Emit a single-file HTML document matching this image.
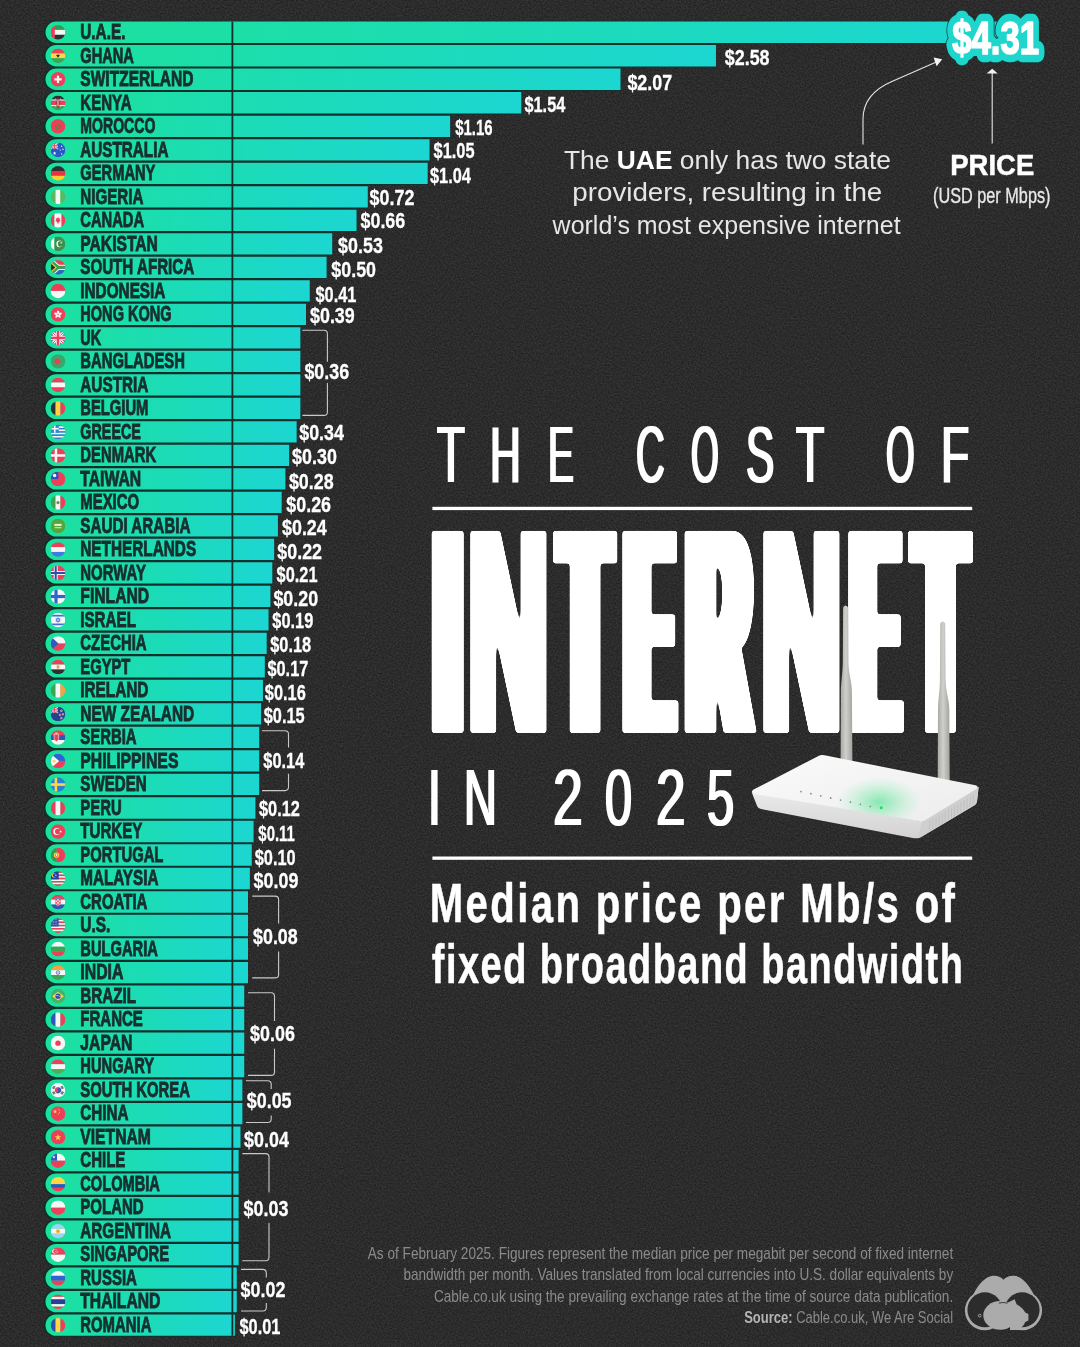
<!DOCTYPE html>
<html lang="en"><head><meta charset="utf-8"><title>The Cost of Internet in 2025</title>
<style>
html,body{margin:0;padding:0;background:#2a2a2a;}
body{width:1080px;height:1347px;overflow:hidden;position:relative;font-family:"Liberation Sans",sans-serif;}
svg{position:absolute;left:0;top:0;display:block;}
text{font-family:"Liberation Sans",sans-serif;}
.nm{font-weight:700;font-size:21.2px;fill:#17302e;stroke:#17302e;stroke-width:.9px;}
.vl{font-weight:700;font-size:21.5px;fill:#fff;stroke:#fff;stroke-width:.3px;}
.br{fill:none;stroke:#c9c9c9;stroke-width:1.1;}
.an{font-size:25.6px;fill:#e6e6e6;}
.pr{font-weight:700;font-size:30.2px;fill:#fff;stroke:#fff;stroke-width:.5px;}
.us{font-size:21.8px;fill:#e8e8e8;stroke:#e8e8e8;stroke-width:.35px;}
.big{font-weight:700;font-size:45.6px;}
.md{font-weight:700;font-size:55px;fill:#fff;stroke:#fff;stroke-width:.5px;}
.ft{font-size:16.1px;fill:#8b8b8b;}
.ttl{position:absolute;left:0;top:0;width:1080px;height:0;color:#fff;white-space:pre;}
.ttl span{position:absolute;display:block;line-height:1;}
.ttl b{display:inline-block;font-weight:inherit;transform-origin:0 0;}
</style></head><body>
<svg width="1080" height="1347" viewBox="0 0 1080 1347">
<defs>
<linearGradient id="g" x1="0" y1="0" x2="1" y2="0"><stop offset="0" stop-color="#1be19c"/><stop offset="1" stop-color="#1cd6d2"/></linearGradient>
<clipPath id="fc"><circle cx="0" cy="0" r="7.3"/></clipPath>
<filter id="grain" x="0" y="0" width="100%" height="100%" color-interpolation-filters="sRGB"><feTurbulence type="fractalNoise" baseFrequency="0.6" numOctaves="3" seed="7" result="n"/><feColorMatrix type="matrix" values="1.6 0 0 0 -0.3  1.6 0 0 0 -0.3  1.6 0 0 0 -0.3  0 0 0 0 1"/></filter>
<filter id="fatx" x="-5%" y="-5%" width="110%" height="110%"><feMorphology operator="dilate" radius="10 0"/><feGaussianBlur stdDeviation="1.8"/><feComponentTransfer><feFuncA type="linear" slope="7" intercept="-3"/></feComponentTransfer></filter>
<filter id="fatn" x="-5%" y="-5%" width="110%" height="110%"><feMorphology operator="dilate" radius="6 0"/><feGaussianBlur stdDeviation="1.8"/><feComponentTransfer><feFuncA type="linear" slope="7" intercept="-3"/></feComponentTransfer></filter>
<filter id="fat1" x="-5%" y="-10%" width="110%" height="120%"><feMorphology operator="dilate" radius="1 0"/></filter>
</defs>
<rect width="1080" height="1347" fill="#242424"/>
<rect width="1080" height="1347" filter="url(#grain)" opacity=".09"/>

<g id="bars">
<path d="M55.15,20.50H1000.00V44.00H55.15A11.75,11.75 0 0 1 55.15,20.50Z" fill="#10302c"/>
<path d="M55.15,44.01H715.98V67.51H55.15A11.75,11.75 0 0 1 55.15,44.01Z" fill="#10302c"/>
<path d="M55.15,67.51H620.50V91.01H55.15A11.75,11.75 0 0 1 55.15,67.51Z" fill="#10302c"/>
<path d="M55.15,91.02H521.29V114.52H55.15A11.75,11.75 0 0 1 55.15,91.02Z" fill="#10302c"/>
<path d="M55.15,114.53H450.15V138.03H55.15A11.75,11.75 0 0 1 55.15,114.53Z" fill="#10302c"/>
<path d="M55.15,138.04H429.56V161.54H55.15A11.75,11.75 0 0 1 55.15,138.04Z" fill="#10302c"/>
<path d="M55.15,161.54H427.69V185.04H55.15A11.75,11.75 0 0 1 55.15,161.54Z" fill="#10302c"/>
<path d="M55.15,185.05H367.78V208.55H55.15A11.75,11.75 0 0 1 55.15,185.05Z" fill="#10302c"/>
<path d="M55.15,208.56H356.55V232.06H55.15A11.75,11.75 0 0 1 55.15,208.56Z" fill="#10302c"/>
<path d="M55.15,232.06H332.22V255.56H55.15A11.75,11.75 0 0 1 55.15,232.06Z" fill="#10302c"/>
<path d="M55.15,255.57H326.60V279.07H55.15A11.75,11.75 0 0 1 55.15,255.57Z" fill="#10302c"/>
<path d="M55.15,279.08H309.75V302.58H55.15A11.75,11.75 0 0 1 55.15,279.08Z" fill="#10302c"/>
<path d="M55.15,302.58H306.01V326.08H55.15A11.75,11.75 0 0 1 55.15,302.58Z" fill="#10302c"/>
<path d="M55.15,326.09H300.39V349.59H55.15A11.75,11.75 0 0 1 55.15,326.09Z" fill="#10302c"/>
<path d="M55.15,349.60H300.39V373.10H55.15A11.75,11.75 0 0 1 55.15,349.60Z" fill="#10302c"/>
<path d="M55.15,373.11H300.39V396.61H55.15A11.75,11.75 0 0 1 55.15,373.11Z" fill="#10302c"/>
<path d="M55.15,396.61H300.39V420.11H55.15A11.75,11.75 0 0 1 55.15,396.61Z" fill="#10302c"/>
<path d="M55.15,420.12H296.65V443.62H55.15A11.75,11.75 0 0 1 55.15,420.12Z" fill="#10302c"/>
<path d="M55.15,443.63H289.16V467.13H55.15A11.75,11.75 0 0 1 55.15,443.63Z" fill="#10302c"/>
<path d="M55.15,467.13H285.42V490.63H55.15A11.75,11.75 0 0 1 55.15,467.13Z" fill="#10302c"/>
<path d="M55.15,490.64H281.67V514.14H55.15A11.75,11.75 0 0 1 55.15,490.64Z" fill="#10302c"/>
<path d="M55.15,514.15H277.93V537.65H55.15A11.75,11.75 0 0 1 55.15,514.15Z" fill="#10302c"/>
<path d="M55.15,537.65H274.18V561.15H55.15A11.75,11.75 0 0 1 55.15,537.65Z" fill="#10302c"/>
<path d="M55.15,561.16H272.31V584.66H55.15A11.75,11.75 0 0 1 55.15,561.16Z" fill="#10302c"/>
<path d="M55.15,584.67H270.44V608.17H55.15A11.75,11.75 0 0 1 55.15,584.67Z" fill="#10302c"/>
<path d="M55.15,608.18H268.57V631.68H55.15A11.75,11.75 0 0 1 55.15,608.18Z" fill="#10302c"/>
<path d="M55.15,631.68H266.70V655.18H55.15A11.75,11.75 0 0 1 55.15,631.68Z" fill="#10302c"/>
<path d="M55.15,655.19H264.82V678.69H55.15A11.75,11.75 0 0 1 55.15,655.19Z" fill="#10302c"/>
<path d="M55.15,678.70H262.95V702.20H55.15A11.75,11.75 0 0 1 55.15,678.70Z" fill="#10302c"/>
<path d="M55.15,702.20H261.08V725.70H55.15A11.75,11.75 0 0 1 55.15,702.20Z" fill="#10302c"/>
<path d="M55.15,725.71H259.21V749.21H55.15A11.75,11.75 0 0 1 55.15,725.71Z" fill="#10302c"/>
<path d="M55.15,749.22H259.21V772.72H55.15A11.75,11.75 0 0 1 55.15,749.22Z" fill="#10302c"/>
<path d="M55.15,772.72H259.21V796.22H55.15A11.75,11.75 0 0 1 55.15,772.72Z" fill="#10302c"/>
<path d="M55.15,796.23H255.46V819.73H55.15A11.75,11.75 0 0 1 55.15,796.23Z" fill="#10302c"/>
<path d="M55.15,819.74H253.59V843.24H55.15A11.75,11.75 0 0 1 55.15,819.74Z" fill="#10302c"/>
<path d="M55.15,843.25H251.72V866.75H55.15A11.75,11.75 0 0 1 55.15,843.25Z" fill="#10302c"/>
<path d="M55.15,866.75H249.85V890.25H55.15A11.75,11.75 0 0 1 55.15,866.75Z" fill="#10302c"/>
<path d="M55.15,890.26H247.98V913.76H55.15A11.75,11.75 0 0 1 55.15,890.26Z" fill="#10302c"/>
<path d="M55.15,913.77H247.98V937.27H55.15A11.75,11.75 0 0 1 55.15,913.77Z" fill="#10302c"/>
<path d="M55.15,937.27H247.98V960.77H55.15A11.75,11.75 0 0 1 55.15,937.27Z" fill="#10302c"/>
<path d="M55.15,960.78H247.98V984.28H55.15A11.75,11.75 0 0 1 55.15,960.78Z" fill="#10302c"/>
<path d="M55.15,984.29H244.23V1007.79H55.15A11.75,11.75 0 0 1 55.15,984.29Z" fill="#10302c"/>
<path d="M55.15,1007.79H244.23V1031.29H55.15A11.75,11.75 0 0 1 55.15,1007.79Z" fill="#10302c"/>
<path d="M55.15,1031.30H244.23V1054.80H55.15A11.75,11.75 0 0 1 55.15,1031.30Z" fill="#10302c"/>
<path d="M55.15,1054.81H244.23V1078.31H55.15A11.75,11.75 0 0 1 55.15,1054.81Z" fill="#10302c"/>
<path d="M55.15,1078.32H242.36V1101.81H55.15A11.75,11.75 0 0 1 55.15,1078.32Z" fill="#10302c"/>
<path d="M55.15,1101.82H242.36V1125.32H55.15A11.75,11.75 0 0 1 55.15,1101.82Z" fill="#10302c"/>
<path d="M55.15,1125.33H240.49V1148.83H55.15A11.75,11.75 0 0 1 55.15,1125.33Z" fill="#10302c"/>
<path d="M55.15,1148.84H238.62V1172.34H55.15A11.75,11.75 0 0 1 55.15,1148.84Z" fill="#10302c"/>
<path d="M55.15,1172.34H238.62V1195.84H55.15A11.75,11.75 0 0 1 55.15,1172.34Z" fill="#10302c"/>
<path d="M55.15,1195.85H238.62V1219.35H55.15A11.75,11.75 0 0 1 55.15,1195.85Z" fill="#10302c"/>
<path d="M55.15,1219.36H238.62V1242.86H55.15A11.75,11.75 0 0 1 55.15,1219.36Z" fill="#10302c"/>
<path d="M55.15,1242.86H238.62V1266.36H55.15A11.75,11.75 0 0 1 55.15,1242.86Z" fill="#10302c"/>
<path d="M55.15,1266.37H236.74V1289.87H55.15A11.75,11.75 0 0 1 55.15,1266.37Z" fill="#10302c"/>
<path d="M55.15,1289.88H236.74V1313.38H55.15A11.75,11.75 0 0 1 55.15,1289.88Z" fill="#10302c"/>
<path d="M55.15,1313.38H234.87V1336.88H55.15A11.75,11.75 0 0 1 55.15,1313.38Z" fill="#10302c"/>
<path d="M56.15,21.60H1000.00V42.90H56.15A10.65,10.65 0 0 1 56.15,21.60Z" fill="url(#g)"/>
<path d="M56.15,45.11H715.98V66.41H56.15A10.65,10.65 0 0 1 56.15,45.11Z" fill="url(#g)"/>
<path d="M56.15,68.61H620.50V89.91H56.15A10.65,10.65 0 0 1 56.15,68.61Z" fill="url(#g)"/>
<path d="M56.15,92.12H521.29V113.42H56.15A10.65,10.65 0 0 1 56.15,92.12Z" fill="url(#g)"/>
<path d="M56.15,115.63H450.15V136.93H56.15A10.65,10.65 0 0 1 56.15,115.63Z" fill="url(#g)"/>
<path d="M56.15,139.14H429.56V160.44H56.15A10.65,10.65 0 0 1 56.15,139.14Z" fill="url(#g)"/>
<path d="M56.15,162.64H427.69V183.94H56.15A10.65,10.65 0 0 1 56.15,162.64Z" fill="url(#g)"/>
<path d="M56.15,186.15H367.78V207.45H56.15A10.65,10.65 0 0 1 56.15,186.15Z" fill="url(#g)"/>
<path d="M56.15,209.66H356.55V230.96H56.15A10.65,10.65 0 0 1 56.15,209.66Z" fill="url(#g)"/>
<path d="M56.15,233.16H332.22V254.46H56.15A10.65,10.65 0 0 1 56.15,233.16Z" fill="url(#g)"/>
<path d="M56.15,256.67H326.60V277.97H56.15A10.65,10.65 0 0 1 56.15,256.67Z" fill="url(#g)"/>
<path d="M56.15,280.18H309.75V301.48H56.15A10.65,10.65 0 0 1 56.15,280.18Z" fill="url(#g)"/>
<path d="M56.15,303.68H306.01V324.98H56.15A10.65,10.65 0 0 1 56.15,303.68Z" fill="url(#g)"/>
<path d="M56.15,327.19H300.39V348.49H56.15A10.65,10.65 0 0 1 56.15,327.19Z" fill="url(#g)"/>
<path d="M56.15,350.70H300.39V372.00H56.15A10.65,10.65 0 0 1 56.15,350.70Z" fill="url(#g)"/>
<path d="M56.15,374.21H300.39V395.51H56.15A10.65,10.65 0 0 1 56.15,374.21Z" fill="url(#g)"/>
<path d="M56.15,397.71H300.39V419.01H56.15A10.65,10.65 0 0 1 56.15,397.71Z" fill="url(#g)"/>
<path d="M56.15,421.22H296.65V442.52H56.15A10.65,10.65 0 0 1 56.15,421.22Z" fill="url(#g)"/>
<path d="M56.15,444.73H289.16V466.03H56.15A10.65,10.65 0 0 1 56.15,444.73Z" fill="url(#g)"/>
<path d="M56.15,468.23H285.42V489.53H56.15A10.65,10.65 0 0 1 56.15,468.23Z" fill="url(#g)"/>
<path d="M56.15,491.74H281.67V513.04H56.15A10.65,10.65 0 0 1 56.15,491.74Z" fill="url(#g)"/>
<path d="M56.15,515.25H277.93V536.55H56.15A10.65,10.65 0 0 1 56.15,515.25Z" fill="url(#g)"/>
<path d="M56.15,538.75H274.18V560.05H56.15A10.65,10.65 0 0 1 56.15,538.75Z" fill="url(#g)"/>
<path d="M56.15,562.26H272.31V583.56H56.15A10.65,10.65 0 0 1 56.15,562.26Z" fill="url(#g)"/>
<path d="M56.15,585.77H270.44V607.07H56.15A10.65,10.65 0 0 1 56.15,585.77Z" fill="url(#g)"/>
<path d="M56.15,609.28H268.57V630.58H56.15A10.65,10.65 0 0 1 56.15,609.28Z" fill="url(#g)"/>
<path d="M56.15,632.78H266.70V654.08H56.15A10.65,10.65 0 0 1 56.15,632.78Z" fill="url(#g)"/>
<path d="M56.15,656.29H264.82V677.59H56.15A10.65,10.65 0 0 1 56.15,656.29Z" fill="url(#g)"/>
<path d="M56.15,679.80H262.95V701.10H56.15A10.65,10.65 0 0 1 56.15,679.80Z" fill="url(#g)"/>
<path d="M56.15,703.30H261.08V724.60H56.15A10.65,10.65 0 0 1 56.15,703.30Z" fill="url(#g)"/>
<path d="M56.15,726.81H259.21V748.11H56.15A10.65,10.65 0 0 1 56.15,726.81Z" fill="url(#g)"/>
<path d="M56.15,750.32H259.21V771.62H56.15A10.65,10.65 0 0 1 56.15,750.32Z" fill="url(#g)"/>
<path d="M56.15,773.82H259.21V795.12H56.15A10.65,10.65 0 0 1 56.15,773.82Z" fill="url(#g)"/>
<path d="M56.15,797.33H255.46V818.63H56.15A10.65,10.65 0 0 1 56.15,797.33Z" fill="url(#g)"/>
<path d="M56.15,820.84H253.59V842.14H56.15A10.65,10.65 0 0 1 56.15,820.84Z" fill="url(#g)"/>
<path d="M56.15,844.35H251.72V865.64H56.15A10.65,10.65 0 0 1 56.15,844.35Z" fill="url(#g)"/>
<path d="M56.15,867.85H249.85V889.15H56.15A10.65,10.65 0 0 1 56.15,867.85Z" fill="url(#g)"/>
<path d="M56.15,891.36H247.98V912.66H56.15A10.65,10.65 0 0 1 56.15,891.36Z" fill="url(#g)"/>
<path d="M56.15,914.87H247.98V936.17H56.15A10.65,10.65 0 0 1 56.15,914.87Z" fill="url(#g)"/>
<path d="M56.15,938.37H247.98V959.67H56.15A10.65,10.65 0 0 1 56.15,938.37Z" fill="url(#g)"/>
<path d="M56.15,961.88H247.98V983.18H56.15A10.65,10.65 0 0 1 56.15,961.88Z" fill="url(#g)"/>
<path d="M56.15,985.39H244.23V1006.69H56.15A10.65,10.65 0 0 1 56.15,985.39Z" fill="url(#g)"/>
<path d="M56.15,1008.89H244.23V1030.19H56.15A10.65,10.65 0 0 1 56.15,1008.89Z" fill="url(#g)"/>
<path d="M56.15,1032.40H244.23V1053.70H56.15A10.65,10.65 0 0 1 56.15,1032.40Z" fill="url(#g)"/>
<path d="M56.15,1055.91H244.23V1077.21H56.15A10.65,10.65 0 0 1 56.15,1055.91Z" fill="url(#g)"/>
<path d="M56.15,1079.41H242.36V1100.71H56.15A10.65,10.65 0 0 1 56.15,1079.41Z" fill="url(#g)"/>
<path d="M56.15,1102.92H242.36V1124.22H56.15A10.65,10.65 0 0 1 56.15,1102.92Z" fill="url(#g)"/>
<path d="M56.15,1126.43H240.49V1147.73H56.15A10.65,10.65 0 0 1 56.15,1126.43Z" fill="url(#g)"/>
<path d="M56.15,1149.94H238.62V1171.24H56.15A10.65,10.65 0 0 1 56.15,1149.94Z" fill="url(#g)"/>
<path d="M56.15,1173.44H238.62V1194.74H56.15A10.65,10.65 0 0 1 56.15,1173.44Z" fill="url(#g)"/>
<path d="M56.15,1196.95H238.62V1218.25H56.15A10.65,10.65 0 0 1 56.15,1196.95Z" fill="url(#g)"/>
<path d="M56.15,1220.46H238.62V1241.76H56.15A10.65,10.65 0 0 1 56.15,1220.46Z" fill="url(#g)"/>
<path d="M56.15,1243.96H238.62V1265.26H56.15A10.65,10.65 0 0 1 56.15,1243.96Z" fill="url(#g)"/>
<path d="M56.15,1267.47H236.74V1288.77H56.15A10.65,10.65 0 0 1 56.15,1267.47Z" fill="url(#g)"/>
<path d="M56.15,1290.98H236.74V1312.28H56.15A10.65,10.65 0 0 1 56.15,1290.98Z" fill="url(#g)"/>
<path d="M56.15,1314.48H234.87V1335.78H56.15A10.65,10.65 0 0 1 56.15,1314.48Z" fill="url(#g)"/>
<rect x="231.50" y="21.60" width="1.8" height="1314.18" fill="#10302c"/>
</g>
<g id="flags">
<g transform="translate(58.00,32.35)"><g clip-path="url(#fc)"><rect x="-7.3" y="-7.30" width="14.6" height="4.92" fill="#2e9e57"/><rect x="-7.3" y="-2.43" width="14.6" height="4.92" fill="#f6f6f6"/><rect x="-7.3" y="2.43" width="14.6" height="4.92" fill="#2c3036"/><rect x="-7.3" y="-7.3" width="4.1" height="14.6" fill="#ee3f59"/></g></g>
<g transform="translate(58.00,55.86)"><g clip-path="url(#fc)"><rect x="-7.3" y="-7.30" width="14.6" height="4.92" fill="#ee3f59"/><rect x="-7.3" y="-2.43" width="14.6" height="4.92" fill="#ffd447"/><rect x="-7.3" y="2.43" width="14.6" height="4.92" fill="#3aa655"/><polygon points="0.00,-2.30 0.54,-0.74 2.19,-0.71 0.87,0.28 1.35,1.86 0.00,0.92 -1.35,1.86 -0.87,0.28 -2.19,-0.71 -0.54,-0.74" fill="#2c3036" /></g></g>
<g transform="translate(58.00,79.36)"><g clip-path="url(#fc)"><rect x="-7.3" y="-7.3" width="14.6" height="14.6" fill="#ee3f59"/><rect x="-1.1" y="-3.7" width="2.2" height="7.4" fill="#f6f6f6"/><rect x="-3.7" y="-1.1" width="7.4" height="2.2" fill="#f6f6f6"/></g></g>
<g transform="translate(58.00,102.87)"><g clip-path="url(#fc)"><rect x="-7.3" y="-7.30" width="14.6" height="4.03" fill="#2c3036"/><rect x="-7.3" y="-3.32" width="14.6" height="1.11" fill="#f6f6f6"/><rect x="-7.3" y="-2.26" width="14.6" height="4.56" fill="#ee3f59"/><rect x="-7.3" y="2.26" width="14.6" height="1.11" fill="#f6f6f6"/><rect x="-7.3" y="3.32" width="14.6" height="4.03" fill="#3c9e50"/><ellipse cx="0" cy="0" rx="1.7" ry="4.6" fill="#ee3f59" stroke="#2c3036" stroke-width=".7"/><line x1="-2.6" y1="-4.5" x2="2.6" y2="4.5" stroke="#f6f6f6" stroke-width="0.5"/><line x1="2.6" y1="-4.5" x2="-2.6" y2="4.5" stroke="#f6f6f6" stroke-width="0.5"/><ellipse cx="0" cy="0" rx="1.3" ry="3.9" fill="#ee3f59"/><rect x="-0.3" y="-3" width="0.6" height="6" fill="#f6f6f6"/></g></g>
<g transform="translate(58.00,126.38)"><g clip-path="url(#fc)"><rect x="-7.3" y="-7.3" width="14.6" height="14.6" fill="#ee3f59"/><polygon points="0.00,-2.90 0.69,-0.75 2.95,-0.76 1.12,0.56 1.82,2.71 0.00,1.38 -1.82,2.71 -1.12,0.56 -2.95,-0.76 -0.69,-0.75" fill="none" stroke="#4a8f3c" stroke-width=".9"/></g></g>
<g transform="translate(58.00,149.89)"><g clip-path="url(#fc)"><rect x="-7.3" y="-7.3" width="14.6" height="14.6" fill="#2b57c9"/><rect x="-7.3" y="-7.3" width="7.3" height="6.3" fill="#233f9c"/><line x1="-7.3" y1="-7.3" x2="0.0" y2="-1.0" stroke="#f6f6f6" stroke-width="1.3"/><line x1="0.0" y1="-7.3" x2="-7.3" y2="-1.0" stroke="#f6f6f6" stroke-width="1.3"/><line x1="-7.3" y1="-7.3" x2="0.0" y2="-1.0" stroke="#ee3f59" stroke-width="0.5"/><line x1="0.0" y1="-7.3" x2="-7.3" y2="-1.0" stroke="#ee3f59" stroke-width="0.5"/><rect x="-4.65" y="-7.3" width="2" height="6.3" fill="#f6f6f6"/><rect x="-7.3" y="-5.15" width="7.3" height="2" fill="#f6f6f6"/><rect x="-4.2" y="-7.3" width="1.1" height="6.3" fill="#ee3f59"/><rect x="-7.3" y="-4.7" width="7.3" height="1.1" fill="#ee3f59"/><polygon points="-3.40,1.70 -2.90,2.71 -1.78,2.87 -2.59,3.66 -2.40,4.78 -3.40,4.25 -4.40,4.78 -4.21,3.66 -5.02,2.87 -3.90,2.71" fill="#f6f6f6" /><circle cx="3.6" cy="-3.6" r="0.7" fill="#f6f6f6" /><circle cx="5" cy="-0.6" r="0.7" fill="#f6f6f6" /><circle cx="2.2" cy="0.2" r="0.6" fill="#f6f6f6" /><circle cx="3.6" cy="4" r="0.7" fill="#f6f6f6" /></g></g>
<g transform="translate(58.00,173.39)"><g clip-path="url(#fc)"><rect x="-7.3" y="-7.30" width="14.6" height="4.92" fill="#2c3036"/><rect x="-7.3" y="-2.43" width="14.6" height="4.92" fill="#e8343f"/><rect x="-7.3" y="2.43" width="14.6" height="4.92" fill="#ffce31"/></g></g>
<g transform="translate(58.00,196.90)"><g clip-path="url(#fc)"><rect x="-7.30" y="-7.3" width="4.92" height="14.6" fill="#5cb85c"/><rect x="-2.43" y="-7.3" width="4.92" height="14.6" fill="#f6f6f6"/><rect x="2.43" y="-7.3" width="4.92" height="14.6" fill="#5cb85c"/></g></g>
<g transform="translate(58.00,220.41)"><g clip-path="url(#fc)"><rect x="-7.30" y="-7.3" width="3.79" height="14.6" fill="#ee3f59"/><rect x="-3.56" y="-7.3" width="7.16" height="14.6" fill="#f6f6f6"/><rect x="3.56" y="-7.3" width="3.79" height="14.6" fill="#ee3f59"/><polygon points="0.00,-3.40 0.90,-1.80 2.30,-2.10 1.70,-0.30 2.80,0.50 1.00,1.30 1.20,2.30 0.30,2.10 0.30,3.60 -0.30,3.60 -0.30,2.10 -1.20,2.30 -1.00,1.30 -2.80,0.50 -1.70,-0.30 -2.30,-2.10 -0.90,-1.80" fill="#ee3f59" /></g></g>
<g transform="translate(58.00,243.91)"><g clip-path="url(#fc)"><rect x="-7.30" y="-7.3" width="3.79" height="14.6" fill="#f6f6f6"/><rect x="-3.56" y="-7.3" width="10.91" height="14.6" fill="#3f8f4a"/><circle cx="1.7" cy="0" r="3.3" fill="#f6f6f6" /><circle cx="2.7" cy="0" r="2.8" fill="#3f8f4a" /><polygon points="3.20,-2.40 3.48,-1.59 4.34,-1.57 3.66,-1.05 3.91,-0.23 3.20,-0.72 2.49,-0.23 2.74,-1.05 2.06,-1.57 2.92,-1.59" fill="#f6f6f6" /></g></g>
<g transform="translate(58.00,267.42)"><g clip-path="url(#fc)"><rect x="-7.3" y="-7.30" width="14.6" height="7.35" fill="#ee3f59"/><rect x="-7.3" y="0.00" width="14.6" height="7.35" fill="#2f62d3"/><polygon points="-7.30,-7.30 -4.30,-7.30 1.00,-2.60 7.30,-2.60 7.30,2.60 1.00,2.60 -4.30,7.30 -7.30,7.30" fill="#f6f6f6" /><polygon points="-7.30,-7.30 -5.70,-7.30 0.60,-1.60 7.30,-1.60 7.30,1.60 0.60,1.60 -5.70,7.30 -7.30,7.30" fill="#3aa24f" /><polygon points="-7.30,-5.60 -1.20,0.00 -7.30,5.60" fill="#ffd447" /><polygon points="-7.30,-4.20 -2.60,0.00 -7.30,4.20" fill="#2c3036" /></g></g>
<g transform="translate(58.00,290.93)"><g clip-path="url(#fc)"><rect x="-7.3" y="-7.30" width="14.6" height="7.35" fill="#ee3f59"/><rect x="-7.3" y="0.00" width="14.6" height="7.35" fill="#f6f6f6"/></g></g>
<g transform="translate(58.00,314.43)"><g clip-path="url(#fc)"><rect x="-7.3" y="-7.3" width="14.6" height="14.6" fill="#ee3f59"/><ellipse cx="0" cy="-2" rx="1.15" ry="2" fill="#f6f6f6" transform="rotate(0)"/><ellipse cx="0" cy="-2" rx="1.15" ry="2" fill="#f6f6f6" transform="rotate(72)"/><ellipse cx="0" cy="-2" rx="1.15" ry="2" fill="#f6f6f6" transform="rotate(144)"/><ellipse cx="0" cy="-2" rx="1.15" ry="2" fill="#f6f6f6" transform="rotate(216)"/><ellipse cx="0" cy="-2" rx="1.15" ry="2" fill="#f6f6f6" transform="rotate(288)"/><circle cx="0" cy="0" r="0.7" fill="#ee3f59" /></g></g>
<g transform="translate(58.00,337.94)"><g clip-path="url(#fc)"><rect x="-7.3" y="-7.3" width="14.6" height="14.6" fill="#2f55c0"/><line x1="-7.3" y1="-7.3" x2="7.3" y2="7.3" stroke="#f6f6f6" stroke-width="3.0"/><line x1="7.3" y1="-7.3" x2="-7.3" y2="7.3" stroke="#f6f6f6" stroke-width="3.0"/><line x1="-7.3" y1="-7.3" x2="7.3" y2="7.3" stroke="#ee3f59" stroke-width="1.0"/><line x1="7.3" y1="-7.3" x2="-7.3" y2="7.3" stroke="#ee3f59" stroke-width="1.0"/><rect x="-2.3" y="-7.3" width="4.6" height="14.6" fill="#f6f6f6"/><rect x="-7.3" y="-2.3" width="14.6" height="4.6" fill="#f6f6f6"/><rect x="-1.25" y="-7.3" width="2.5" height="14.6" fill="#ee3f59"/><rect x="-7.3" y="-1.25" width="14.6" height="2.5" fill="#ee3f59"/></g></g>
<g transform="translate(58.00,361.45)"><g clip-path="url(#fc)"><rect x="-7.3" y="-7.3" width="14.6" height="14.6" fill="#37a869"/><circle cx="-0.6" cy="0" r="3.0" fill="#ee3f59" /></g></g>
<g transform="translate(58.00,384.96)"><g clip-path="url(#fc)"><rect x="-7.3" y="-7.30" width="14.6" height="4.92" fill="#ee3f59"/><rect x="-7.3" y="-2.43" width="14.6" height="4.92" fill="#f6f6f6"/><rect x="-7.3" y="2.43" width="14.6" height="4.92" fill="#ee3f59"/></g></g>
<g transform="translate(58.00,408.46)"><g clip-path="url(#fc)"><rect x="-7.30" y="-7.3" width="4.92" height="14.6" fill="#2c3036"/><rect x="-2.43" y="-7.3" width="4.92" height="14.6" fill="#ffd23f"/><rect x="2.43" y="-7.3" width="4.92" height="14.6" fill="#ee3f59"/></g></g>
<g transform="translate(58.00,431.97)"><g clip-path="url(#fc)"><rect x="-7.3" y="-7.30" width="14.6" height="1.67" fill="#3b7fd9"/><rect x="-7.3" y="-5.68" width="14.6" height="1.67" fill="#f6f6f6"/><rect x="-7.3" y="-4.06" width="14.6" height="1.67" fill="#3b7fd9"/><rect x="-7.3" y="-2.43" width="14.6" height="1.67" fill="#f6f6f6"/><rect x="-7.3" y="-0.81" width="14.6" height="1.67" fill="#3b7fd9"/><rect x="-7.3" y="0.81" width="14.6" height="1.67" fill="#f6f6f6"/><rect x="-7.3" y="2.43" width="14.6" height="1.67" fill="#3b7fd9"/><rect x="-7.3" y="4.06" width="14.6" height="1.67" fill="#f6f6f6"/><rect x="-7.3" y="5.68" width="14.6" height="1.67" fill="#3b7fd9"/><rect x="-7.3" y="-7.3" width="8.1" height="8.1" fill="#3b7fd9"/><rect x="-4.05" y="-7.3" width="1.6" height="8.1" fill="#f6f6f6"/><rect x="-7.3" y="-4.05" width="8.1" height="1.6" fill="#f6f6f6"/></g></g>
<g transform="translate(58.00,455.48)"><g clip-path="url(#fc)"><rect x="-7.3" y="-7.3" width="14.6" height="14.6" fill="#ee3f59"/><rect x="-3.3" y="-7.3" width="2.5" height="14.6" fill="#f6f6f6"/><rect x="-7.3" y="-1.25" width="14.6" height="2.5" fill="#f6f6f6"/></g></g>
<g transform="translate(58.00,478.98)"><g clip-path="url(#fc)"><rect x="-7.3" y="-7.3" width="14.6" height="14.6" fill="#ee3f59"/><rect x="-7.3" y="-7.3" width="7.6" height="7.3" fill="#2b4fc4"/><circle cx="-3.4" cy="-3.5" r="1.7" fill="#f6f6f6" /></g></g>
<g transform="translate(58.00,502.49)"><g clip-path="url(#fc)"><rect x="-7.30" y="-7.3" width="4.92" height="14.6" fill="#3aa655"/><rect x="-2.43" y="-7.3" width="4.92" height="14.6" fill="#f6f6f6"/><rect x="2.43" y="-7.3" width="4.92" height="14.6" fill="#ee3f59"/><circle cx="0" cy="0" r="1.6" fill="#a0713c" /><circle cx="0" cy="0.7" r="1.1" fill="#5a9a4a" /></g></g>
<g transform="translate(58.00,526.00)"><g clip-path="url(#fc)"><rect x="-7.3" y="-7.3" width="14.6" height="14.6" fill="#55a63a"/><rect x="-3.6" y="-2.1" width="7.2" height="2.0" fill="#e9f2d6"/><rect x="-3.3" y="1.3" width="6.6" height="0.9" fill="#e9f2d6"/></g></g>
<g transform="translate(58.00,549.50)"><g clip-path="url(#fc)"><rect x="-7.3" y="-7.30" width="14.6" height="4.92" fill="#ee3f59"/><rect x="-7.3" y="-2.43" width="14.6" height="4.92" fill="#f6f6f6"/><rect x="-7.3" y="2.43" width="14.6" height="4.92" fill="#3f7be0"/></g></g>
<g transform="translate(58.00,573.01)"><g clip-path="url(#fc)"><rect x="-7.3" y="-7.3" width="14.6" height="14.6" fill="#ee3f59"/><rect x="-4.3" y="-7.3" width="4" height="14.6" fill="#f6f6f6"/><rect x="-7.3" y="-2" width="14.6" height="4" fill="#f6f6f6"/><rect x="-3.3" y="-7.3" width="2" height="14.6" fill="#2a4fa8"/><rect x="-7.3" y="-1" width="14.6" height="2" fill="#2a4fa8"/></g></g>
<g transform="translate(58.00,596.52)"><g clip-path="url(#fc)"><rect x="-7.3" y="-7.3" width="14.6" height="14.6" fill="#f6f6f6"/><rect x="-3.6" y="-7.3" width="3.2" height="14.6" fill="#2f67cf"/><rect x="-7.3" y="-1.6" width="14.6" height="3.2" fill="#2f67cf"/></g></g>
<g transform="translate(58.00,620.03)"><g clip-path="url(#fc)"><rect x="-7.3" y="-7.3" width="14.6" height="14.6" fill="#f6f6f6"/><rect x="-7.3" y="-5.2" width="14.6" height="1.7" fill="#3a6fe0"/><rect x="-7.3" y="3.5" width="14.6" height="1.7" fill="#3a6fe0"/><polygon points="0.00,-2.40 2.10,1.20 -2.10,1.20" fill="none" stroke="#3a6fe0" stroke-width=".7"/><polygon points="0.00,2.40 2.10,-1.20 -2.10,-1.20" fill="none" stroke="#3a6fe0" stroke-width=".7"/></g></g>
<g transform="translate(58.00,643.53)"><g clip-path="url(#fc)"><rect x="-7.3" y="-7.30" width="14.6" height="7.35" fill="#f6f6f6"/><rect x="-7.3" y="0.00" width="14.6" height="7.35" fill="#ee3f59"/><polygon points="-7.30,-7.30 0.40,0.00 -7.30,7.30" fill="#2f5bbf" /></g></g>
<g transform="translate(58.00,667.04)"><g clip-path="url(#fc)"><rect x="-7.3" y="-7.30" width="14.6" height="4.92" fill="#ee3f59"/><rect x="-7.3" y="-2.43" width="14.6" height="4.92" fill="#f6f6f6"/><rect x="-7.3" y="2.43" width="14.6" height="4.92" fill="#2c3036"/><rect x="-1.3" y="-1.7" width="2.6" height="3.2" fill="#d9a441"/></g></g>
<g transform="translate(58.00,690.55)"><g clip-path="url(#fc)"><rect x="-7.30" y="-7.3" width="4.92" height="14.6" fill="#3aa655"/><rect x="-2.43" y="-7.3" width="4.92" height="14.6" fill="#f6f6f6"/><rect x="2.43" y="-7.3" width="4.92" height="14.6" fill="#ff9d42"/></g></g>
<g transform="translate(58.00,714.05)"><g clip-path="url(#fc)"><rect x="-7.3" y="-7.3" width="14.6" height="14.6" fill="#27408f"/><rect x="-7.3" y="-7.3" width="7.3" height="6.3" fill="#233f9c"/><line x1="-7.3" y1="-7.3" x2="0.0" y2="-1.0" stroke="#f6f6f6" stroke-width="1.3"/><line x1="0.0" y1="-7.3" x2="-7.3" y2="-1.0" stroke="#f6f6f6" stroke-width="1.3"/><line x1="-7.3" y1="-7.3" x2="0.0" y2="-1.0" stroke="#ee3f59" stroke-width="0.5"/><line x1="0.0" y1="-7.3" x2="-7.3" y2="-1.0" stroke="#ee3f59" stroke-width="0.5"/><rect x="-4.65" y="-7.3" width="2" height="6.3" fill="#f6f6f6"/><rect x="-7.3" y="-5.15" width="7.3" height="2" fill="#f6f6f6"/><rect x="-4.2" y="-7.3" width="1.1" height="6.3" fill="#ee3f59"/><rect x="-7.3" y="-4.7" width="7.3" height="1.1" fill="#ee3f59"/><polygon points="3.40,-4.50 3.71,-3.62 4.64,-3.60 3.89,-3.04 4.16,-2.15 3.40,-2.68 2.64,-2.15 2.91,-3.04 2.16,-3.60 3.09,-3.62" fill="#ee3f59" stroke="#f6f6f6" stroke-width=".35"/><polygon points="5.00,-1.00 5.28,-0.19 6.14,-0.17 5.46,0.35 5.71,1.17 5.00,0.68 4.29,1.17 4.54,0.35 3.86,-0.17 4.72,-0.19" fill="#ee3f59" stroke="#f6f6f6" stroke-width=".35"/><polygon points="2.00,-0.40 2.28,0.41 3.14,0.43 2.46,0.95 2.71,1.77 2.00,1.28 1.29,1.77 1.54,0.95 0.86,0.43 1.72,0.41" fill="#ee3f59" stroke="#f6f6f6" stroke-width=".35"/><polygon points="3.40,2.90 3.71,3.78 4.64,3.80 3.89,4.36 4.16,5.25 3.40,4.72 2.64,5.25 2.91,4.36 2.16,3.80 3.09,3.78" fill="#ee3f59" stroke="#f6f6f6" stroke-width=".35"/></g></g>
<g transform="translate(58.00,737.56)"><g clip-path="url(#fc)"><rect x="-7.3" y="-7.30" width="14.6" height="4.92" fill="#ee3f59"/><rect x="-7.3" y="-2.43" width="14.6" height="4.92" fill="#2f55b5"/><rect x="-7.3" y="2.43" width="14.6" height="4.92" fill="#f6f6f6"/><path d="M-3.9,-3.4h4.6v4.4c0,2 -2.3,3 -2.3,3s-2.3,-1 -2.3,-3z" fill="#ee3f59" stroke="#f6f6f6" stroke-width=".6"/><rect x="-2.7" y="-5.1" width="2.2" height="1.6" fill="#ffd447"/></g></g>
<g transform="translate(58.00,761.07)"><g clip-path="url(#fc)"><rect x="-7.3" y="-7.30" width="14.6" height="7.35" fill="#2f62d3"/><rect x="-7.3" y="0.00" width="14.6" height="7.35" fill="#ee3f59"/><polygon points="-7.30,-7.30 1.20,0.00 -7.30,7.30" fill="#f6f6f6" /><circle cx="-3.9" cy="0" r="1.5" fill="#ffd447" /></g></g>
<g transform="translate(58.00,784.57)"><g clip-path="url(#fc)"><rect x="-7.3" y="-7.3" width="14.6" height="14.6" fill="#2c7fd8"/><rect x="-3.4" y="-7.3" width="2.6" height="14.6" fill="#ffd447"/><rect x="-7.3" y="-1.3" width="14.6" height="2.6" fill="#ffd447"/></g></g>
<g transform="translate(58.00,808.08)"><g clip-path="url(#fc)"><rect x="-7.30" y="-7.3" width="4.92" height="14.6" fill="#ee3f59"/><rect x="-2.43" y="-7.3" width="4.92" height="14.6" fill="#f6f6f6"/><rect x="2.43" y="-7.3" width="4.92" height="14.6" fill="#ee3f59"/></g></g>
<g transform="translate(58.00,831.59)"><g clip-path="url(#fc)"><rect x="-7.3" y="-7.3" width="14.6" height="14.6" fill="#ee3f59"/><circle cx="-1.2" cy="0" r="3.5" fill="#f6f6f6" /><circle cx="-0.19999999999999996" cy="0" r="2.8" fill="#ee3f59" /><polygon points="4.03,-0.46 3.17,0.19 3.48,1.21 2.60,0.60 1.72,1.21 2.03,0.19 1.17,-0.46 2.25,-0.49 2.60,-1.50 2.95,-0.49" fill="#f6f6f6" /></g></g>
<g transform="translate(58.00,855.10)"><g clip-path="url(#fc)"><rect x="-7.30" y="-7.3" width="5.89" height="14.6" fill="#3a9a4a"/><rect x="-1.46" y="-7.3" width="8.81" height="14.6" fill="#ee3f59"/><circle cx="-1.5" cy="0" r="2.7" fill="#ffd447" /><circle cx="-1.5" cy="0" r="1.6" fill="#ee3f59" /><circle cx="-1.5" cy="0" r="1.0" fill="#f6f6f6" /></g></g>
<g transform="translate(58.00,878.60)"><g clip-path="url(#fc)"><rect x="-7.3" y="-7.30" width="14.6" height="1.67" fill="#ee3f59"/><rect x="-7.3" y="-5.68" width="14.6" height="1.67" fill="#f6f6f6"/><rect x="-7.3" y="-4.06" width="14.6" height="1.67" fill="#ee3f59"/><rect x="-7.3" y="-2.43" width="14.6" height="1.67" fill="#f6f6f6"/><rect x="-7.3" y="-0.81" width="14.6" height="1.67" fill="#ee3f59"/><rect x="-7.3" y="0.81" width="14.6" height="1.67" fill="#f6f6f6"/><rect x="-7.3" y="2.43" width="14.6" height="1.67" fill="#ee3f59"/><rect x="-7.3" y="4.06" width="14.6" height="1.67" fill="#f6f6f6"/><rect x="-7.3" y="5.68" width="14.6" height="1.67" fill="#ee3f59"/><rect x="-7.3" y="-7.3" width="8" height="8.1" fill="#273f9f"/><circle cx="-3.9" cy="-3.3" r="2.4" fill="#ffd447" /><circle cx="-3.0" cy="-3.3" r="2.0" fill="#273f9f" /><polygon points="-2.20,-4.50 -1.92,-3.69 -1.06,-3.67 -1.74,-3.15 -1.49,-2.33 -2.20,-2.82 -2.91,-2.33 -2.66,-3.15 -3.34,-3.67 -2.48,-3.69" fill="#ffd447" /></g></g>
<g transform="translate(58.00,902.11)"><g clip-path="url(#fc)"><rect x="-7.3" y="-7.30" width="14.6" height="4.92" fill="#ee3f59"/><rect x="-7.3" y="-2.43" width="14.6" height="4.92" fill="#f6f6f6"/><rect x="-7.3" y="2.43" width="14.6" height="4.92" fill="#2f55b5"/><path d="M-2.4,-3.2h4.8v4.2c0,2 -2.4,3 -2.4,3s-2.4,-1 -2.4,-3z" fill="#f6f6f6" stroke="#ee3f59" stroke-width=".5"/><rect x="-2.4" y="-3.2" width="1.6" height="1.6" fill="#ee3f59"/><rect x="0.8" y="-3.2" width="1.6" height="1.6" fill="#ee3f59"/><rect x="-0.8" y="-1.6" width="1.6" height="1.6" fill="#ee3f59"/><rect x="-2.4" y="0" width="1.6" height="1.6" fill="#ee3f59"/><rect x="0.8" y="0" width="1.6" height="1.6" fill="#ee3f59"/><rect x="-0.8" y="1.6" width="1.6" height="1.6" fill="#ee3f59"/><rect x="-2.6" y="-4.6" width="5.2" height="1.3" fill="#5b8fe0"/></g></g>
<g transform="translate(58.00,925.62)"><g clip-path="url(#fc)"><rect x="-7.3" y="-7.30" width="14.6" height="1.67" fill="#ee3f59"/><rect x="-7.3" y="-5.68" width="14.6" height="1.67" fill="#f6f6f6"/><rect x="-7.3" y="-4.06" width="14.6" height="1.67" fill="#ee3f59"/><rect x="-7.3" y="-2.43" width="14.6" height="1.67" fill="#f6f6f6"/><rect x="-7.3" y="-0.81" width="14.6" height="1.67" fill="#ee3f59"/><rect x="-7.3" y="0.81" width="14.6" height="1.67" fill="#f6f6f6"/><rect x="-7.3" y="2.43" width="14.6" height="1.67" fill="#ee3f59"/><rect x="-7.3" y="4.06" width="14.6" height="1.67" fill="#f6f6f6"/><rect x="-7.3" y="5.68" width="14.6" height="1.67" fill="#ee3f59"/><rect x="-7.3" y="-7.3" width="7.9" height="8.1" fill="#2f4fae"/><circle cx="-6.0" cy="-6.0" r="0.35" fill="#f6f6f6" /><circle cx="-6.0" cy="-4.4" r="0.35" fill="#f6f6f6" /><circle cx="-6.0" cy="-2.8" r="0.35" fill="#f6f6f6" /><circle cx="-6.0" cy="-1.1999999999999993" r="0.35" fill="#f6f6f6" /><circle cx="-4.4" cy="-6.0" r="0.35" fill="#f6f6f6" /><circle cx="-4.4" cy="-4.4" r="0.35" fill="#f6f6f6" /><circle cx="-4.4" cy="-2.8" r="0.35" fill="#f6f6f6" /><circle cx="-4.4" cy="-1.1999999999999993" r="0.35" fill="#f6f6f6" /><circle cx="-2.8" cy="-6.0" r="0.35" fill="#f6f6f6" /><circle cx="-2.8" cy="-4.4" r="0.35" fill="#f6f6f6" /><circle cx="-2.8" cy="-2.8" r="0.35" fill="#f6f6f6" /><circle cx="-2.8" cy="-1.1999999999999993" r="0.35" fill="#f6f6f6" /><circle cx="-1.1999999999999993" cy="-6.0" r="0.35" fill="#f6f6f6" /><circle cx="-1.1999999999999993" cy="-4.4" r="0.35" fill="#f6f6f6" /><circle cx="-1.1999999999999993" cy="-2.8" r="0.35" fill="#f6f6f6" /><circle cx="-1.1999999999999993" cy="-1.1999999999999993" r="0.35" fill="#f6f6f6" /></g></g>
<g transform="translate(58.00,949.12)"><g clip-path="url(#fc)"><rect x="-7.3" y="-7.30" width="14.6" height="4.92" fill="#f6f6f6"/><rect x="-7.3" y="-2.43" width="14.6" height="4.92" fill="#3aa655"/><rect x="-7.3" y="2.43" width="14.6" height="4.92" fill="#ee3f59"/></g></g>
<g transform="translate(58.00,972.63)"><g clip-path="url(#fc)"><rect x="-7.3" y="-7.30" width="14.6" height="4.92" fill="#ff9d42"/><rect x="-7.3" y="-2.43" width="14.6" height="4.92" fill="#f6f6f6"/><rect x="-7.3" y="2.43" width="14.6" height="4.92" fill="#3aa655"/><circle cx="0" cy="0" r="1.8" fill="none" stroke="#2b3f9a" stroke-width=".6"/><circle cx="0" cy="0" r="0.5" fill="#2b3f9a" /></g></g>
<g transform="translate(58.00,996.14)"><g clip-path="url(#fc)"><rect x="-7.3" y="-7.3" width="14.6" height="14.6" fill="#41b36a"/><polygon points="-5.90,0.00 0.00,-4.30 5.90,0.00 0.00,4.30" fill="#ffd447" /><circle cx="0" cy="0" r="2.6" fill="#2a4bb0" /><path d="M-2.5,-.5Q0,-1.3 2.5,.7" stroke="#f6f6f6" stroke-width=".55" fill="none"/></g></g>
<g transform="translate(58.00,1019.64)"><g clip-path="url(#fc)"><rect x="-7.30" y="-7.3" width="4.92" height="14.6" fill="#2f55c0"/><rect x="-2.43" y="-7.3" width="4.92" height="14.6" fill="#f6f6f6"/><rect x="2.43" y="-7.3" width="4.92" height="14.6" fill="#ee3f59"/></g></g>
<g transform="translate(58.00,1043.15)"><g clip-path="url(#fc)"><rect x="-7.3" y="-7.3" width="14.6" height="14.6" fill="#f6f6f6"/><circle cx="0" cy="0" r="2.7" fill="#ee3f59" /></g></g>
<g transform="translate(58.00,1066.66)"><g clip-path="url(#fc)"><rect x="-7.3" y="-7.30" width="14.6" height="4.92" fill="#ee3f59"/><rect x="-7.3" y="-2.43" width="14.6" height="4.92" fill="#f6f6f6"/><rect x="-7.3" y="2.43" width="14.6" height="4.92" fill="#4caf50"/></g></g>
<g transform="translate(58.00,1090.16)"><g clip-path="url(#fc)"><rect x="-7.3" y="-7.3" width="14.6" height="14.6" fill="#f6f6f6"/><g transform="rotate(-33)"><path d="M-3.1,0A3.1,3.1 0 0 1 3.1,0Z" fill="#ee3f59"/><path d="M-3.1,0A3.1,3.1 0 0 0 3.1,0Z" fill="#2f55c0"/><circle cx="-1.55" cy="0" r="1.55" fill="#ee3f59"/><circle cx="1.55" cy="0" r="1.55" fill="#2f55c0"/></g><g transform="rotate(-57)"><rect x="-1.5" y="-6" width="3" height=".55" fill="#2c3036"/><rect x="-1.5" y="-5.2" width="3" height=".55" fill="#2c3036"/><rect x="-1.5" y="-4.4" width="3" height=".55" fill="#2c3036"/></g><g transform="rotate(57)"><rect x="-1.5" y="-6" width="3" height=".55" fill="#2c3036"/><rect x="-1.5" y="-5.2" width="3" height=".55" fill="#2c3036"/><rect x="-1.5" y="-4.4" width="3" height=".55" fill="#2c3036"/></g><g transform="rotate(123)"><rect x="-1.5" y="-6" width="3" height=".55" fill="#2c3036"/><rect x="-1.5" y="-5.2" width="3" height=".55" fill="#2c3036"/><rect x="-1.5" y="-4.4" width="3" height=".55" fill="#2c3036"/></g><g transform="rotate(-123)"><rect x="-1.5" y="-6" width="3" height=".55" fill="#2c3036"/><rect x="-1.5" y="-5.2" width="3" height=".55" fill="#2c3036"/><rect x="-1.5" y="-4.4" width="3" height=".55" fill="#2c3036"/></g></g></g>
<g transform="translate(58.00,1113.67)"><g clip-path="url(#fc)"><rect x="-7.3" y="-7.3" width="14.6" height="14.6" fill="#ee3f59"/><polygon points="-2.90,-4.50 -2.36,-2.94 -0.71,-2.91 -2.03,-1.92 -1.55,-0.34 -2.90,-1.28 -4.25,-0.34 -3.77,-1.92 -5.09,-2.91 -3.44,-2.94" fill="#ffd447" /><circle cx="0.3" cy="-4.6" r="0.55" fill="#ffd447" /><circle cx="1.6" cy="-3.1" r="0.55" fill="#ffd447" /><circle cx="1.6" cy="-1.2" r="0.55" fill="#ffd447" /><circle cx="0.3" cy="0.3" r="0.55" fill="#ffd447" /></g></g>
<g transform="translate(58.00,1137.18)"><g clip-path="url(#fc)"><rect x="-7.3" y="-7.3" width="14.6" height="14.6" fill="#ee3f59"/><polygon points="0.00,-3.20 0.80,-0.90 3.23,-0.85 1.29,0.62 2.00,2.95 0.00,1.56 -2.00,2.95 -1.29,0.62 -3.23,-0.85 -0.80,-0.90" fill="#ffd447" /></g></g>
<g transform="translate(58.00,1160.69)"><g clip-path="url(#fc)"><rect x="-7.3" y="-7.30" width="14.6" height="7.35" fill="#f6f6f6"/><rect x="-7.3" y="0.00" width="14.6" height="7.35" fill="#ee3f59"/><rect x="-7.3" y="-7.3" width="6.3" height="7.3" fill="#2f55c0"/><polygon points="-4.10,-5.40 -3.68,-4.18 -2.39,-4.16 -3.42,-3.38 -3.04,-2.14 -4.10,-2.88 -5.16,-2.14 -4.78,-3.38 -5.81,-4.16 -4.52,-4.18" fill="#f6f6f6" /></g></g>
<g transform="translate(58.00,1184.19)"><g clip-path="url(#fc)"><rect x="-7.3" y="-7.30" width="14.6" height="7.35" fill="#ffd447"/><rect x="-7.3" y="0.00" width="14.6" height="3.70" fill="#2f55c0"/><rect x="-7.3" y="3.65" width="14.6" height="3.70" fill="#ee3f59"/></g></g>
<g transform="translate(58.00,1207.70)"><g clip-path="url(#fc)"><rect x="-7.3" y="-7.30" width="14.6" height="7.35" fill="#f6f6f6"/><rect x="-7.3" y="0.00" width="14.6" height="7.35" fill="#ee3f59"/></g></g>
<g transform="translate(58.00,1231.21)"><g clip-path="url(#fc)"><rect x="-7.3" y="-7.30" width="14.6" height="4.92" fill="#9fd3f2"/><rect x="-7.3" y="-2.43" width="14.6" height="4.92" fill="#f6f6f6"/><rect x="-7.3" y="2.43" width="14.6" height="4.92" fill="#9fd3f2"/><circle cx="0" cy="0" r="2.2" fill="#f7c948" /><circle cx="0" cy="0" r="1.0" fill="#d9962b" /></g></g>
<g transform="translate(58.00,1254.71)"><g clip-path="url(#fc)"><rect x="-7.3" y="-7.30" width="14.6" height="7.35" fill="#ee3f59"/><rect x="-7.3" y="0.00" width="14.6" height="7.35" fill="#f6f6f6"/><circle cx="-3.7" cy="-3.5" r="2.3" fill="#f6f6f6" /><circle cx="-2.8000000000000003" cy="-3.5" r="1.9" fill="#ee3f59" /><circle cx="-1.3" cy="-4.7" r="0.45" fill="#f6f6f6" /><circle cx="-0.2" cy="-3.4" r="0.45" fill="#f6f6f6" /><circle cx="-2.2" cy="-3.2" r="0.45" fill="#f6f6f6" /><circle cx="-0.7" cy="-2.1" r="0.45" fill="#f6f6f6" /><circle cx="-1.8" cy="-2.1" r="0.45" fill="#f6f6f6" /></g></g>
<g transform="translate(58.00,1278.22)"><g clip-path="url(#fc)"><rect x="-7.3" y="-7.30" width="14.6" height="4.92" fill="#f6f6f6"/><rect x="-7.3" y="-2.43" width="14.6" height="4.92" fill="#2f62d3"/><rect x="-7.3" y="2.43" width="14.6" height="4.92" fill="#ee3f59"/></g></g>
<g transform="translate(58.00,1301.73)"><g clip-path="url(#fc)"><rect x="-7.3" y="-7.30" width="14.6" height="2.48" fill="#ee3f59"/><rect x="-7.3" y="-4.87" width="14.6" height="2.48" fill="#f6f6f6"/><rect x="-7.3" y="-2.43" width="14.6" height="4.92" fill="#2b3f9a"/><rect x="-7.3" y="2.43" width="14.6" height="2.48" fill="#f6f6f6"/><rect x="-7.3" y="4.87" width="14.6" height="2.48" fill="#ee3f59"/></g></g>
<g transform="translate(58.00,1325.23)"><g clip-path="url(#fc)"><rect x="-7.30" y="-7.3" width="4.92" height="14.6" fill="#2b4fb0"/><rect x="-2.43" y="-7.3" width="4.92" height="14.6" fill="#ffd447"/><rect x="2.43" y="-7.3" width="4.92" height="14.6" fill="#ee3f59"/></g></g>
</g>
<g id="names">
<text class="nm" x="80.3" y="39.10" textLength="45.10" lengthAdjust="spacingAndGlyphs">U.A.E.</text>
<text class="nm" x="80.3" y="62.61" textLength="53.60" lengthAdjust="spacingAndGlyphs">GHANA</text>
<text class="nm" x="80.3" y="86.11" textLength="113.10" lengthAdjust="spacingAndGlyphs">SWITZERLAND</text>
<text class="nm" x="80.3" y="109.62" textLength="51.30" lengthAdjust="spacingAndGlyphs">KENYA</text>
<text class="nm" x="80.3" y="133.13" textLength="75.10" lengthAdjust="spacingAndGlyphs">MOROCCO</text>
<text class="nm" x="80.3" y="156.64" textLength="88.10" lengthAdjust="spacingAndGlyphs">AUSTRALIA</text>
<text class="nm" x="80.3" y="180.14" textLength="75.10" lengthAdjust="spacingAndGlyphs">GERMANY</text>
<text class="nm" x="80.3" y="203.65" textLength="63.10" lengthAdjust="spacingAndGlyphs">NIGERIA</text>
<text class="nm" x="80.3" y="227.16" textLength="63.85" lengthAdjust="spacingAndGlyphs">CANADA</text>
<text class="nm" x="80.3" y="250.66" textLength="77.60" lengthAdjust="spacingAndGlyphs">PAKISTAN</text>
<text class="nm" x="80.3" y="274.17" textLength="113.85" lengthAdjust="spacingAndGlyphs">SOUTH AFRICA</text>
<text class="nm" x="80.3" y="297.68" textLength="85.10" lengthAdjust="spacingAndGlyphs">INDONESIA</text>
<text class="nm" x="80.3" y="321.18" textLength="91.35" lengthAdjust="spacingAndGlyphs">HONG KONG</text>
<text class="nm" x="80.3" y="344.69" textLength="20.85" lengthAdjust="spacingAndGlyphs">UK</text>
<text class="nm" x="80.3" y="368.20" textLength="104.60" lengthAdjust="spacingAndGlyphs">BANGLADESH</text>
<text class="nm" x="80.3" y="391.71" textLength="68.10" lengthAdjust="spacingAndGlyphs">AUSTRIA</text>
<text class="nm" x="80.3" y="415.21" textLength="68.10" lengthAdjust="spacingAndGlyphs">BELGIUM</text>
<text class="nm" x="80.3" y="438.72" textLength="60.60" lengthAdjust="spacingAndGlyphs">GREECE</text>
<text class="nm" x="80.3" y="462.23" textLength="75.85" lengthAdjust="spacingAndGlyphs">DENMARK</text>
<text class="nm" x="80.3" y="485.73" textLength="60.85" lengthAdjust="spacingAndGlyphs">TAIWAN</text>
<text class="nm" x="80.3" y="509.24" textLength="58.85" lengthAdjust="spacingAndGlyphs">MEXICO</text>
<text class="nm" x="80.3" y="532.75" textLength="110.10" lengthAdjust="spacingAndGlyphs">SAUDI ARABIA</text>
<text class="nm" x="80.3" y="556.25" textLength="115.85" lengthAdjust="spacingAndGlyphs">NETHERLANDS</text>
<text class="nm" x="80.3" y="579.76" textLength="65.60" lengthAdjust="spacingAndGlyphs">NORWAY</text>
<text class="nm" x="80.3" y="603.27" textLength="68.85" lengthAdjust="spacingAndGlyphs">FINLAND</text>
<text class="nm" x="80.3" y="626.78" textLength="55.60" lengthAdjust="spacingAndGlyphs">ISRAEL</text>
<text class="nm" x="80.3" y="650.28" textLength="66.35" lengthAdjust="spacingAndGlyphs">CZECHIA</text>
<text class="nm" x="80.3" y="673.79" textLength="50.10" lengthAdjust="spacingAndGlyphs">EGYPT</text>
<text class="nm" x="80.3" y="697.30" textLength="68.10" lengthAdjust="spacingAndGlyphs">IRELAND</text>
<text class="nm" x="80.3" y="720.80" textLength="113.85" lengthAdjust="spacingAndGlyphs">NEW ZEALAND</text>
<text class="nm" x="80.3" y="744.31" textLength="56.35" lengthAdjust="spacingAndGlyphs">SERBIA</text>
<text class="nm" x="80.3" y="767.82" textLength="98.10" lengthAdjust="spacingAndGlyphs">PHILIPPINES</text>
<text class="nm" x="80.3" y="791.32" textLength="66.35" lengthAdjust="spacingAndGlyphs">SWEDEN</text>
<text class="nm" x="80.3" y="814.83" textLength="41.35" lengthAdjust="spacingAndGlyphs">PERU</text>
<text class="nm" x="80.3" y="838.34" textLength="62.10" lengthAdjust="spacingAndGlyphs">TURKEY</text>
<text class="nm" x="80.3" y="861.85" textLength="83.10" lengthAdjust="spacingAndGlyphs">PORTUGAL</text>
<text class="nm" x="80.3" y="885.35" textLength="78.10" lengthAdjust="spacingAndGlyphs">MALAYSIA</text>
<text class="nm" x="80.3" y="908.86" textLength="67.10" lengthAdjust="spacingAndGlyphs">CROATIA</text>
<text class="nm" x="80.3" y="932.37" textLength="30.10" lengthAdjust="spacingAndGlyphs">U.S.</text>
<text class="nm" x="80.3" y="955.87" textLength="77.60" lengthAdjust="spacingAndGlyphs">BULGARIA</text>
<text class="nm" x="80.3" y="979.38" textLength="43.10" lengthAdjust="spacingAndGlyphs">INDIA</text>
<text class="nm" x="80.3" y="1002.89" textLength="55.85" lengthAdjust="spacingAndGlyphs">BRAZIL</text>
<text class="nm" x="80.3" y="1026.39" textLength="62.60" lengthAdjust="spacingAndGlyphs">FRANCE</text>
<text class="nm" x="80.3" y="1049.90" textLength="52.10" lengthAdjust="spacingAndGlyphs">JAPAN</text>
<text class="nm" x="80.3" y="1073.41" textLength="73.85" lengthAdjust="spacingAndGlyphs">HUNGARY</text>
<text class="nm" x="80.3" y="1096.91" textLength="109.60" lengthAdjust="spacingAndGlyphs">SOUTH KOREA</text>
<text class="nm" x="80.3" y="1120.42" textLength="48.10" lengthAdjust="spacingAndGlyphs">CHINA</text>
<text class="nm" x="80.3" y="1143.93" textLength="70.60" lengthAdjust="spacingAndGlyphs">VIETNAM</text>
<text class="nm" x="80.3" y="1167.44" textLength="45.10" lengthAdjust="spacingAndGlyphs">CHILE</text>
<text class="nm" x="80.3" y="1190.94" textLength="79.60" lengthAdjust="spacingAndGlyphs">COLOMBIA</text>
<text class="nm" x="80.3" y="1214.45" textLength="63.35" lengthAdjust="spacingAndGlyphs">POLAND</text>
<text class="nm" x="80.3" y="1237.96" textLength="90.60" lengthAdjust="spacingAndGlyphs">ARGENTINA</text>
<text class="nm" x="80.3" y="1261.46" textLength="88.85" lengthAdjust="spacingAndGlyphs">SINGAPORE</text>
<text class="nm" x="80.3" y="1284.97" textLength="56.60" lengthAdjust="spacingAndGlyphs">RUSSIA</text>
<text class="nm" x="80.3" y="1308.48" textLength="80.10" lengthAdjust="spacingAndGlyphs">THAILAND</text>
<text class="nm" x="80.3" y="1331.98" textLength="71.10" lengthAdjust="spacingAndGlyphs">ROMANIA</text>
</g>
<g id="values">
<text class="vl" transform="translate(724.80,65.20) scale(0.8320,1)">$2.58</text>
<text class="vl" transform="translate(627.40,89.60) scale(0.8320,1)">$2.07</text>
<text class="vl" transform="translate(524.40,111.90) scale(0.7613,1)">$1.54</text>
<text class="vl" transform="translate(455.20,135.20) scale(0.6947,1)">$1.16</text>
<text class="vl" transform="translate(433.60,158.30) scale(0.7613,1)">$1.05</text>
<text class="vl" transform="translate(430.00,183.30) scale(0.7613,1)">$1.04</text>
<text class="vl" transform="translate(369.60,205.40) scale(0.8320,1)">$0.72</text>
<text class="vl" transform="translate(360.50,227.60) scale(0.8320,1)">$0.66</text>
<text class="vl" transform="translate(338.10,253.10) scale(0.8320,1)">$0.53</text>
<text class="vl" transform="translate(331.30,277.10) scale(0.8320,1)">$0.50</text>
<text class="vl" transform="translate(315.50,302.10) scale(0.7613,1)">$0.41</text>
<text class="vl" transform="translate(310.00,323.40) scale(0.8320,1)">$0.39</text>
<text class="vl" transform="translate(304.40,379.00) scale(0.8320,1)">$0.36</text>
<text class="vl" transform="translate(299.20,440.10) scale(0.8320,1)">$0.34</text>
<text class="vl" transform="translate(292.10,464.30) scale(0.8320,1)">$0.30</text>
<text class="vl" transform="translate(288.90,488.50) scale(0.8320,1)">$0.28</text>
<text class="vl" transform="translate(286.30,512.20) scale(0.8320,1)">$0.26</text>
<text class="vl" transform="translate(282.00,535.20) scale(0.8320,1)">$0.24</text>
<text class="vl" transform="translate(277.30,558.50) scale(0.8320,1)">$0.22</text>
<text class="vl" transform="translate(276.60,582.40) scale(0.7613,1)">$0.21</text>
<text class="vl" transform="translate(273.40,606.00) scale(0.8320,1)">$0.20</text>
<text class="vl" transform="translate(272.30,628.40) scale(0.7613,1)">$0.19</text>
<text class="vl" transform="translate(270.20,651.50) scale(0.7613,1)">$0.18</text>
<text class="vl" transform="translate(267.40,675.80) scale(0.7613,1)">$0.17</text>
<text class="vl" transform="translate(264.80,699.50) scale(0.7613,1)">$0.16</text>
<text class="vl" transform="translate(263.70,723.40) scale(0.7613,1)">$0.15</text>
<text class="vl" transform="translate(263.30,768.00) scale(0.7613,1)">$0.14</text>
<text class="vl" transform="translate(259.00,816.10) scale(0.7613,1)">$0.12</text>
<text class="vl" transform="translate(258.35,840.80) scale(0.6947,1)">$0.11</text>
<text class="vl" transform="translate(254.70,864.50) scale(0.7613,1)">$0.10</text>
<text class="vl" transform="translate(253.60,887.70) scale(0.8320,1)">$0.09</text>
<text class="vl" transform="translate(253.00,944.30) scale(0.8320,1)">$0.08</text>
<text class="vl" transform="translate(250.10,1041.10) scale(0.8320,1)">$0.06</text>
<text class="vl" transform="translate(246.80,1108.20) scale(0.8320,1)">$0.05</text>
<text class="vl" transform="translate(244.10,1146.50) scale(0.8320,1)">$0.04</text>
<text class="vl" transform="translate(243.60,1215.50) scale(0.8320,1)">$0.03</text>
<text class="vl" transform="translate(240.60,1297.30) scale(0.8320,1)">$0.02</text>
<text class="vl" transform="translate(239.50,1334.30) scale(0.7613,1)">$0.01</text>
</g>
<g id="brackets">
<path class="br" d="M302.4,330.2H323.9Q327.4,330.2 327.4,333.7V361.7M327.4,383V411.9Q327.4,415.4 323.9,415.4H302.4"/>
<path class="br" d="M262,730.8H285.0Q288.5,730.8 288.5,734.3V747.6M288.5,773.8V787.1Q288.5,790.6 285.0,790.6H262"/>
<path class="br" d="M252.3,896.1H275.1Q278.6,896.1 278.6,899.6V923.4M278.6,951.4V974.4Q278.6,977.9 275.1,977.9H252.3"/>
<path class="br" d="M248,992.8H271.0Q274.5,992.8 274.5,996.3V1020.9M274.5,1048.7V1071.9Q274.5,1075.4 271.0,1075.4H248"/>
<path class="br" d="M245.9,1080.8H267.7Q271.2,1080.8 271.2,1084.3V1089M271.2,1115.4V1119.0Q271.2,1122.5 267.7,1122.5H245.9"/>
<path class="br" d="M242.3,1153.6H265.5Q269,1153.6 269,1157.1V1192.5M269,1223V1257.2Q269,1260.7 265.5,1260.7H242.3"/>
<path class="br" d="M241,1269.4H262.8Q266.3,1269.4 266.3,1272.9V1277.5M266.3,1303V1307.5Q266.3,1311 262.8,1311H241"/>
</g>
<g id="anno">
<path d="M863,144.5V119C863,101 874,89 893,81L937.5,61.6" fill="none" stroke="#e4e4e4" stroke-width="1.1"/>
<path d="M942.3,59.3L933.6,57.4L936.6,66.2Z" fill="#f2f2f2"/>
<path d="M992.2,143.5V72.5" fill="none" stroke="#e4e4e4" stroke-width="1.1"/>
<path d="M992.2,68.8L986.6,73.4H997.8Z" fill="#f2f2f2"/>
<text class="an" y="168.7" x="564.0" textLength="327.0" lengthAdjust="spacingAndGlyphs">The <tspan font-weight="700" fill="#fff">UAE</tspan> only has two state</text>
<text class="an" y="201.3" x="572.3" textLength="310.0" lengthAdjust="spacingAndGlyphs">providers, resulting in the</text>
<text class="an" y="233.7" x="552.6" textLength="348.0" lengthAdjust="spacingAndGlyphs">world’s most expensive internet</text>
<text class="pr" y="174.7" x="950.3" textLength="83.9" lengthAdjust="spacingAndGlyphs">PRICE</text>
<text class="us" y="202.5" x="933.0" textLength="117.5" lengthAdjust="spacingAndGlyphs">(USD per Mbps)</text>
<g transform="translate(952.2,53.7) scale(0.762,1)" fill="#fff" stroke-linejoin="round"><defs><text id="p431" class="big">$4.31</text></defs><use href="#p431" fill="#173a38" stroke="#173a38" stroke-width="18.5"/><use href="#p431" fill="#1fd6cd" stroke="#1fd6cd" stroke-width="16.5"/><use href="#p431" fill="#fff" stroke="#fff" stroke-width="1.7"/></g>
</g>
<rect x="432.4" y="506.8" width="539.8" height="3.3" fill="#fff"/>
<rect x="432.4" y="856.5" width="539.8" height="3.3" fill="#fff"/>
<g><text class="md" transform="translate(429.8,921.6) scale(0.73,1)" letter-spacing="3.25">Median price per Mb/s of</text>
<text class="md" transform="translate(431.8,983) scale(0.69,1)" letter-spacing="2.15">fixed broadband bandwidth</text></g>
<text class="ft" y="1258.6" x="367.8" textLength="585.4" lengthAdjust="spacingAndGlyphs">As of February 2025. Figures represent the median price per megabit per second of fixed internet</text>
<text class="ft" y="1280.2" x="403.4" textLength="549.8" lengthAdjust="spacingAndGlyphs">bandwidth per month. Values translated from local currencies into U.S. dollar equivalents by</text>
<text class="ft" y="1301.8" x="433.9" textLength="519.3" lengthAdjust="spacingAndGlyphs">Cable.co.uk using the prevailing exchange rates at the time of source data publication.</text>
<text class="ft" y="1323.3" x="744.2" textLength="209.0" lengthAdjust="spacingAndGlyphs"><tspan font-weight="700" fill="#b4b4b4">Source:</tspan> Cable.co.uk, We Are Social</text>
<g id="logo" fill="#ababab">
<path d="M972.6,1296C976.5,1286.5 985,1276.2 992.6,1275.7C998,1275.4 1001.6,1277.4 1003.5,1279.8C1005.4,1277.4 1009,1275.4 1014.4,1275.7C1022,1276.2 1030.5,1286.5 1034.4,1296L1022.3,1291.5L1006.5,1299L1003.5,1308L1000.5,1299L984.7,1291.5Z"/>
<circle cx="984.7" cy="1310.5" r="19.8"/><circle cx="1022.3" cy="1310.5" r="19.8"/>
<circle cx="984.9" cy="1309.8" r="17.5" fill="#2c2c2c"/><circle cx="1022.1" cy="1309.8" r="17.5" fill="#2c2c2c"/>
<ellipse cx="1000.3" cy="1315.4" rx="17" ry="14.3"/>
<path d="M1008,1302.5L1014.6,1299.2L1016.6,1304.2C1021,1306.6 1024,1310 1025.2,1312.6L1028.4,1313.9V1320.6L1025.2,1321.9C1024.2,1324.6 1022.6,1326.6 1020.6,1328.1L1019.6,1330H1010V1316Z"/>
<path d="M998.8,1303.1Q1003.2,1301.9 1007.6,1303.1" fill="none" stroke="#3a3a3a" stroke-width="1"/>
<circle cx="979.7" cy="1315.6" r="1.4" fill="none" stroke="#ababab" stroke-width=".9"/>
</g>
</svg>
<div class="ttl t1" role="heading" aria-label="THE COST OF" style="font-size:78.80px;font-weight:400"><span style="left:436.68px;top:415.51px;filter:url(#fat1)"><b style="transform:scaleX(0.5790)">T</b></span><span style="left:490.30px;top:415.51px;filter:url(#fat1)"><b style="transform:scaleX(0.5407)">H</b></span><span style="left:548.42px;top:415.51px;filter:url(#fat1)"><b style="transform:scaleX(0.4917)">E</b></span> <span style="left:635.78px;top:415.51px;filter:url(#fat1)"><b style="transform:scaleX(0.5050)">C</b></span><span style="left:691.41px;top:415.51px;filter:url(#fat1)"><b style="transform:scaleX(0.4536)">O</b></span><span style="left:745.78px;top:415.51px;filter:url(#fat1)"><b style="transform:scaleX(0.5379)">S</b></span><span style="left:795.86px;top:415.51px;filter:url(#fat1)"><b style="transform:scaleX(0.5880)">T</b></span> <span style="left:885.96px;top:415.51px;filter:url(#fat1)"><b style="transform:scaleX(0.4666)">O</b></span><span style="left:940.91px;top:415.51px;filter:url(#fat1)"><b style="transform:scaleX(0.5868)">F</b></span></div>
<div class="ttl t2" role="heading" aria-label="INTERNET" style="font-size:294.00px;font-weight:700"><span style="left:435.68px;top:483.80px;filter:url(#fatx)"><b style="transform:scaleX(0.2857)">I</b></span><span style="left:468.69px;top:483.80px;filter:url(#fatn)"><b style="transform:scaleX(0.3714)">N</b></span><span style="left:561.65px;top:483.80px;filter:url(#fatx)"><b style="transform:scaleX(0.2570)">T</b></span><span style="left:628.38px;top:483.80px;filter:url(#fatx)"><b style="transform:scaleX(0.2195)">E</b></span><span style="left:688.68px;top:483.80px;filter:url(#fatx)"><b style="transform:scaleX(0.2808)">R</b></span><span style="left:762.49px;top:483.80px;filter:url(#fatn)"><b style="transform:scaleX(0.3714)">N</b></span><span style="left:853.64px;top:483.80px;filter:url(#fatx)"><b style="transform:scaleX(0.2164)">E</b></span><span style="left:916.84px;top:483.80px;filter:url(#fatx)"><b style="transform:scaleX(0.2611)">T</b></span></div>
<div class="ttl t3" role="heading" aria-label="IN 2025" style="font-size:80.00px;font-weight:400"><span style="left:427.75px;top:757.82px;filter:url(#fat1)"><b style="transform:scaleX(0.5763)">I</b></span><span style="left:463.87px;top:757.82px;filter:url(#fat1)"><b style="transform:scaleX(0.5684)">N</b></span> <span style="left:553.11px;top:757.82px;filter:url(#fat1)"><b style="transform:scaleX(0.6695)">2</b></span><span style="left:604.90px;top:757.82px;filter:url(#fat1)"><b style="transform:scaleX(0.6067)">0</b></span><span style="left:656.03px;top:757.82px;filter:url(#fat1)"><b style="transform:scaleX(0.6640)">2</b></span><span style="left:707.14px;top:757.82px;filter:url(#fat1)"><b style="transform:scaleX(0.6117)">5</b></span></div>
<svg width="1080" height="1347" viewBox="0 0 1080 1347" style="pointer-events:none">
<g id="router">
<defs>
<linearGradient id="ant" x1="0" y1="0" x2="1" y2="0"><stop offset="0" stop-color="#a8a8a4"/><stop offset=".45" stop-color="#cfcfcb"/><stop offset="1" stop-color="#a2a29e"/></linearGradient>
<linearGradient id="rtop" x1="0" y1="0" x2="1" y2="1"><stop offset="0" stop-color="#fbfbfb"/><stop offset="1" stop-color="#ececec"/></linearGradient>
<linearGradient id="rfront" x1="0" y1="0" x2="0" y2="1"><stop offset="0" stop-color="#ededed"/><stop offset="1" stop-color="#d2d2d2"/></linearGradient>
<radialGradient id="glow" cx="0.5" cy="0.5" r="0.5"><stop offset="0" stop-color="#3de384" stop-opacity=".6"/><stop offset=".5" stop-color="#5fe89a" stop-opacity=".3"/><stop offset="1" stop-color="#7ff0b0" stop-opacity="0"/></radialGradient>
<clipPath id="topclip"><path d="M753.5,789.6L818,756.2Q821,754.6 824.5,755.3L975.5,785.2Q979.5,786.3 976,789.3L925,820.3Q922.5,821.6 919,821L755.5,794.2Q749.5,792.6 753.5,789.6Z"/></clipPath>
</defs>
<path d="M843.1,607.5Q845.6,603.4 848.1,607.5L848.4,662C848.6,674 851.6,680 851.9,691L852.4,764H840.6L840.9,691C841.2,680 842.6,674 842.8,662Z" fill="url(#ant)"/>
<path d="M940.2,623.5Q942.7,619.4 945.2,623.5L945.6,680C945.8,692 949,698 949.3,709L949.7,782H937.7L938,709C938.3,698 939.7,692 939.9,680Z" fill="url(#ant)"/>
<path d="M751.8,792.5L757.2,806.3Q758,808.4 761,809L914,838.2Q918,838.9 921.5,836.7L974.5,805.2Q976.6,803.8 977,801.5L978.6,787L922,821Z" fill="url(#rfront)"/>
<path d="M922.5,820.5L978.6,786.8L977,801.5Q976.6,803.8 974.5,805.2L921.5,836.7Q919.5,838 917.5,838.5Z" fill="#cfcfcf"/>
<path d="M753.5,789.6L818,756.2Q821,754.6 824.5,755.3L975.5,785.2Q979.5,786.3 976,789.3L925,820.3Q922.5,821.6 919,821L755.5,794.2Q749.5,792.6 753.5,789.6Z" fill="url(#rtop)"/>
<g clip-path="url(#topclip)"><ellipse cx="879" cy="802" rx="42" ry="25" fill="url(#glow)"/></g>
<g fill="#8b8b8b"><circle cx="801" cy="791.6" r=".9"/><circle cx="810.9" cy="793.7" r=".9"/><circle cx="820.8" cy="795.8" r=".9"/><circle cx="830.7" cy="798" r=".9"/><circle cx="840.6" cy="800.1" r=".9"/><circle cx="850.5" cy="802.2" r=".9"/><circle cx="860.4" cy="804.3" r=".9"/><circle cx="870.3" cy="806.4" r=".9"/></g>
<circle cx="881.2" cy="807.8" r="1.5" fill="#1fd968"/>
<g stroke="#b9b9b9" stroke-width=".7"><line x1="930.0" y1="820.5" x2="929.6" y2="831.0"/><line x1="933.1" y1="818.6" x2="932.7" y2="829.1"/><line x1="936.2" y1="816.8" x2="935.8" y2="827.3"/><line x1="939.3" y1="814.9" x2="938.9" y2="825.4"/><line x1="942.4" y1="813.1" x2="942.0" y2="823.6"/><line x1="945.5" y1="811.2" x2="945.1" y2="821.7"/><line x1="948.6" y1="809.3" x2="948.2" y2="819.8"/><line x1="951.7" y1="807.5" x2="951.3" y2="818.0"/><line x1="954.8" y1="805.6" x2="954.4" y2="816.1"/><line x1="957.9" y1="803.8" x2="957.5" y2="814.3"/><line x1="961.0" y1="801.9" x2="960.6" y2="812.4"/><line x1="964.1" y1="800.0" x2="963.7" y2="810.5"/><line x1="967.2" y1="798.2" x2="966.8" y2="808.7"/><line x1="970.3" y1="796.3" x2="969.9" y2="806.8"/><line x1="973.4" y1="794.5" x2="973.0" y2="805.0"/></g>
</g>
</svg>
</body></html>
